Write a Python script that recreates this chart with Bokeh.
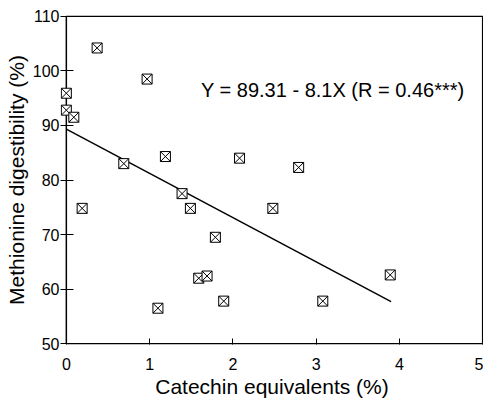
from bokeh.plotting import figure
from bokeh.models import Range1d, FixedTicker, Label
from bokeh.embed import file_html
from bokeh.resources import INLINE

# Data
catechin = [0.0, 0.0, 0.09, 0.19, 0.37, 0.69, 0.97, 1.10, 1.19, 1.39, 1.49, 1.59,
            1.69, 1.79, 1.89, 2.08, 2.48, 2.79, 3.08, 3.89]
digest = [95.9, 92.8, 91.5, 74.8, 104.2, 83.0, 98.5, 56.5, 84.3, 77.5, 74.8, 62.0,
          62.4, 69.5, 57.8, 84.0, 74.8, 82.3, 57.8, 62.6]

intercept = 89.31
slope = -8.1
fit_x = [0.0, 3.9]
fit_y = [intercept + slope * v for v in fit_x]

x_ticks = [0, 1, 2, 3, 4, 5]
y_ticks = [50, 60, 70, 80, 90, 100, 110]
x_min, x_max = 0, 5
y_min, y_max = 50, 110
equation = "Y = 89.31 - 8.1X (R = 0.46***)"

FONT = "Liberation Sans"

# small padding so markers at x=0 and the box lines are not clipped by the frame
p = figure(width=483, height=400, output_backend="svg", toolbar_location=None,
           x_range=Range1d(x_min - 0.07, x_max + 0.01),
           y_range=Range1d(y_min - 0.15, y_max + 0.15),
           min_border_left=60, min_border_top=15, min_border_bottom=55, min_border_right=0)
p.grid.visible = False
p.outline_line_color = None
p.background_fill_color = "white"

xa = p.xaxis[0]
xa.ticker = FixedTicker(ticks=x_ticks)
xa.axis_label = "Catechin equivalents (%)"
xa.axis_line_color = None
xa.major_tick_line_color = "black"
xa.major_tick_line_width = 1
xa.major_tick_in = 6
xa.major_tick_out = 0
xa.minor_tick_line_color = None
xa.major_label_standoff = 13
xa.axis_label_standoff = 2
xa.major_label_text_font = FONT
xa.major_label_text_font_size = "16px"
xa.major_label_text_line_height = 1.0
xa.axis_label_text_font = FONT
xa.axis_label_text_font_size = "21px"
xa.axis_label_text_line_height = 1.0
xa.axis_label_text_font_style = "normal"
xa.axis_label_text_color = "black"
xa.major_label_text_color = "black"

ya = p.yaxis[0]
ya.ticker = FixedTicker(ticks=y_ticks)
ya.axis_label = "Methionine digestibility (%)"
ya.axis_line_color = None
ya.major_tick_line_color = "black"
ya.major_tick_line_width = 1
ya.major_tick_in = 13
ya.major_tick_out = 0
ya.minor_tick_line_color = None
ya.major_label_standoff = 1
ya.axis_label_standoff = 2
ya.major_label_text_font = FONT
ya.major_label_text_font_size = "16px"
ya.axis_label_text_font = FONT
ya.axis_label_text_font_size = "21px"
ya.axis_label_text_font_style = "normal"
ya.axis_label_text_color = "black"
ya.major_label_text_color = "black"

# plot box from x=0..5, y=50..110
p.quad(left=[x_min], right=[x_max], bottom=[y_min], top=[y_max],
       fill_color=None, line_color="black", line_width=1.5)

p.line(fit_x, fit_y, line_color="black", line_width=1.5)
p.scatter(catechin, digest, marker="square_x", size=10, line_color="black",
          line_width=1, fill_color="white")

p.add_layout(Label(x=3.2, y=96.5, text=equation, text_align="center",
                   text_baseline="alphabetic", text_font=FONT, text_font_size="20px",
                   text_color="black"))

open("out.html", "w").write(file_html(p, INLINE))
